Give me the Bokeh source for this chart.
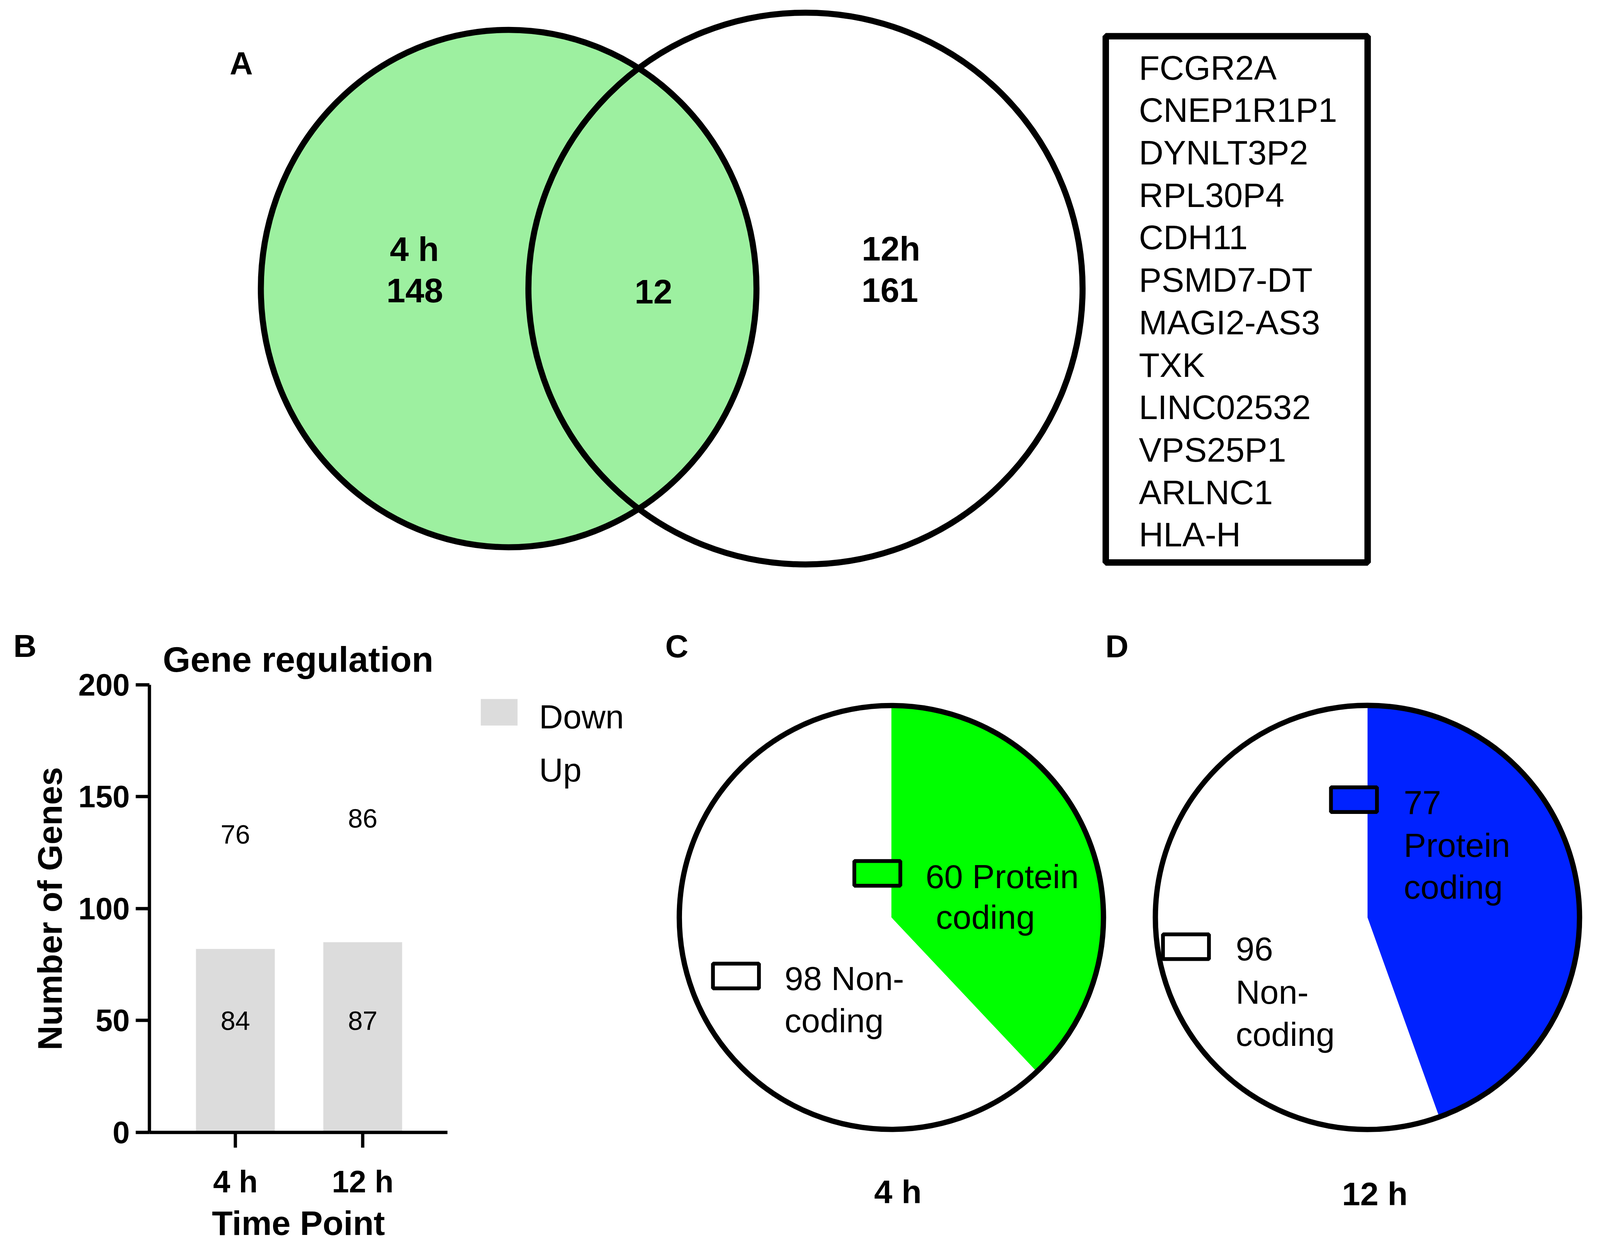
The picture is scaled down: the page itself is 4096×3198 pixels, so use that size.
import math
from bokeh.plotting import figure
from bokeh.models import Range1d, LinearAxis, FixedTicker
from bokeh.core.properties import value
from bokeh.embed import file_html
from bokeh.resources import INLINE

# ---------------- data ----------------
venn_sets = ["4 h", "12h"]
venn_unique = [148, 161]
venn_shared = 12
shared_genes = ["FCGR2A", "CNEP1R1P1", "DYNLT3P2", "RPL30P4", "CDH11", "PSMD7-DT",
                "MAGI2-AS3", "TXK", "LINC02532", "VPS25P1", "ARLNC1", "HLA-H"]

time_points = ["4 h", "12 h"]
down_bar = [82, 85]          # grey bar heights as drawn
down_counts = [84, 87]       # value labels of the Down series
up_counts = [76, 86]         # value labels of the Up series
series_names = ["Down", "Up"]
series_colors = ["#DCDCDC", "#FFFFFF"]
y_ticks = [0, 50, 100, 150, 200]

pie_titles = ["4 h", "12 h"]
protein_coding = [60, 77]
non_coding = [98, 96]
pie_colors = ["#00FF00", "#0022FF"]
venn_green = "#9DF0A0"

# ---------------- canvas (units = reference pixels) ----------------
S = 0.973
W, H = 4080, 3182
X0, X1 = 8 / S, (8 + W) / S
Y0, Y1 = 8 / S, (8 + H) / S
FONT = value("Liberation Sans")
BASE_FIX = 0.26   # baseline correction, fraction of font size

p = figure(width=W, height=H, x_range=Range1d(X0, X1), y_range=Range1d(-Y1, -Y0),
           output_backend="svg", toolbar_location=None, x_axis_type=None, y_axis_type=None,
           min_border=0, outline_line_color=None, background_fill_color="white",
           border_fill_color="white")
p.grid.visible = False


def T(x, y, text, size, bold=False, align="left"):
    yy = y - BASE_FIX * size / S
    p.text(x=[x], y=[-yy], text=[text], text_font=FONT,
           text_font_size=value(f"{size}px"),
           text_font_style="bold" if bold else "normal",
           text_align=align, text_baseline="alphabetic", text_color="black")


# ---------------- panel letters ----------------
for lx, ly, lt in [(612, 196, "A"), (43, 1729, "B"), (1758, 1730, "C"), (2916, 1730, "D")]:
    T(lx, ly, lt, 82, bold=True)

# ---------------- A: Venn ----------------
p.ellipse(x=[1346], y=[-767], width=[1304], height=[1362], fill_color=venn_green, line_color=None)
p.ellipse(x=[1346, 2127], y=[-767, -767], width=[1304, 1458], height=[1362, 1452],
          fill_color=None, line_color="black", line_width=15.5)
T(1098, 686, venn_sets[0], 87, bold=True, align="center")
T(1099, 795, str(venn_unique[0]), 87, bold=True, align="center")
T(1727, 798, str(venn_shared), 87, bold=True, align="center")
T(2352, 685, venn_sets[1], 87, bold=True, align="center")
T(2349, 794, str(venn_unique[1]), 87, bold=True, align="center")

# gene list box
p.quad(left=[2917], right=[3606], top=[-103], bottom=[-1488], fill_color=None,
       line_color="black", line_width=16.5)
for i, g in enumerate(shared_genes):
    T(3004, 209 + 111.7 * i, g, 87)

# ---------------- B: bar chart ----------------
BX1, BDX = 627.0, 335.0        # ref x of first category, ref px per category
BY0, BDY = 2987.6, 5.891       # ref y of zero, ref px per gene
p.extra_x_ranges = {"bx": Range1d(1 + (X0 - BX1) / BDX, 1 + (X1 - BX1) / BDX)}
p.extra_y_ranges = {"by": Range1d((BY0 - Y1) / BDY, (BY0 - Y0) / BDY)}
xs = [1, 2]
y_axis_x = 1 + (400.6 - BX1) / BDX
x_axis_end = 1 + (1184.6 - BX1) / BDX
bw = 207.4 / BDX

p.vbar(x=xs, bottom=0, top=down_bar, width=bw, fill_color=series_colors[0], line_color=None,
       x_range_name="bx", y_range_name="by")
p.vbar(x=xs, bottom=down_bar, top=[d + u for d, u in zip(down_bar, up_counts)], width=bw,
       fill_color=series_colors[1], line_color=None, x_range_name="bx", y_range_name="by")

LAB = 68
lab_fix = BASE_FIX * LAB / S / BDY
p.text(x=xs, y=[46.8 + lab_fix] * 2, text=[str(v) for v in down_counts], x_range_name="bx",
       y_range_name="by", text_font=FONT, text_font_size=value(f"{LAB}px"), text_align="center",
       text_baseline="alphabetic", text_color="black")
p.text(x=xs, y=[130.1 + lab_fix, 137.2 + lab_fix], text=[str(v) for v in up_counts],
       x_range_name="bx", y_range_name="by", text_font=FONT, text_font_size=value(f"{LAB}px"),
       text_align="center", text_baseline="alphabetic", text_color="black")


def style_axis(ax, tick_out):
    ax.axis_line_width = 8.4
    ax.axis_line_color = "black"
    ax.major_tick_line_width = 8.4
    ax.major_tick_line_color = "black"
    ax.major_tick_out = tick_out
    ax.major_tick_in = 0
    ax.minor_tick_out = 0
    ax.minor_tick_in = 0
    ax.major_label_text_font = "Liberation Sans"
    ax.major_label_text_font_size = "79px"
    ax.major_label_text_font_style = "bold"
    ax.major_label_text_color = "black"
    ax.axis_label_text_font = "Liberation Sans"
    ax.axis_label_text_font_size = "87px"
    ax.axis_label_text_font_style = "bold"
    ax.axis_label_text_color = "black"


yaxis = LinearAxis(x_range_name="bx", y_range_name="by", fixed_location=y_axis_x,
                   bounds=(0, 200), ticker=FixedTicker(ticks=y_ticks, minor_ticks=[]),
                   axis_label="Number of Genes")
style_axis(yaxis, 35)
yaxis.major_label_standoff = 15
yaxis.axis_label_standoff = 22
p.add_layout(yaxis, "left")

xaxis = LinearAxis(x_range_name="bx", y_range_name="by", fixed_location=0,
                   bounds=(y_axis_x, x_axis_end), ticker=FixedTicker(ticks=xs, minor_ticks=[]),
                   major_label_overrides={x: t for x, t in zip(xs, time_points)},
                   axis_label="Time Point")
style_axis(xaxis, 39)
xaxis.major_label_standoff = 43
xaxis.axis_label_standoff = 9
p.add_layout(xaxis, "below")

T(792, 1767, "Gene regulation", 91, bold=True, align="center")
p.rect(x=[1321, 1321], y=[-1882, -2021.7], width=96.7, height=69.8,
       fill_color=series_colors, line_color=None)
T(1426, 1916.8, series_names[0], 85)
T(1426, 2056.5, series_names[1], 85)

# ---------------- C, D: pies ----------------
pie_cx = [2353, 3605.5]
pie_cy = 2422
R = 558
for i in range(2):
    f = protein_coding[i] / (protein_coding[i] + non_coding[i])
    p.wedge(x=[pie_cx[i]], y=[-pie_cy], radius=R, start_angle=math.pi / 2 - 2 * math.pi * f,
            end_angle=math.pi / 2, direction="anticlock", fill_color=pie_colors[i], line_color=None)
    p.wedge(x=[pie_cx[i]], y=[-pie_cy], radius=R, start_angle=math.pi / 2,
            end_angle=math.pi / 2 + 2 * math.pi * (1 - f), direction="anticlock",
            fill_color="white", line_color=None)
    p.circle(x=[pie_cx[i]], y=[-pie_cy], radius=R, fill_color=None, line_color="black",
             line_width=13.6)

# legend swatches
p.rect(x=[2316, 1944, 3570, 3128], y=[-2306, -2576, -2112, -2499], width=121, height=65,
       fill_color=[pie_colors[0], "white", pie_colors[1], "white"], line_color="black",
       line_width=9.7)
# pie C labels
T(2443, 2336.5, f"{protein_coding[0]} Protein", 86)
T(2470, 2444, "coding", 86)
T(2072, 2605, f"{non_coding[0]} Non-", 86)
T(2072, 2716.6, "coding", 86)
T(2370, 3167, pie_titles[0], 84, bold=True, align="center")
# pie D labels
T(3701, 2141.8, f"{protein_coding[1]}", 86)
T(3701, 2255, "Protein", 86)
T(3701, 2364.7, "coding", 86)
T(3259, 2528, f"{non_coding[1]}", 86)
T(3259, 2641, "Non-", 86)
T(3259, 2751.7, "coding", 86)
T(3625, 3172, pie_titles[1], 84, bold=True, align="center")

open("out.html", "w").write(file_html(p, INLINE))
